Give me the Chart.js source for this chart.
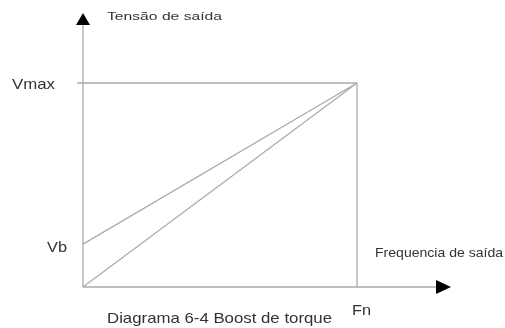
<!DOCTYPE html>
<html>
<head>
<meta charset="utf-8">
<script src="https://cdn.jsdelivr.net/npm/chart.js@4"></script>
<style>
  html, body { margin: 0; padding: 0; background: #fff; }
  #wrap { width: 505px; height: 328px; }
</style>
</head>
<body>
<div id="wrap"><canvas id="chart"></canvas></div>
<script>
// diagram values (arbitrary units)
const freqTicks = ["Fn"];
const voltTicks = ["Vb", "Vmax"];
const Fn = 50;
const Vmax = 100;
const Vb = 21;
const xMax = 67.15;
const yMax = 134.3;

const lineColor = "#ababab";
const textColor = "#333";

const linear = [{ x: 0, y: 0 }, { x: Fn, y: Vmax }];
const boost = [{ x: 0, y: Vb }, { x: Fn, y: Vmax }];
const vmaxGuide = [{ x: -1.1, y: Vmax }, { x: Fn, y: Vmax }];
const fnGuide = [{ x: Fn, y: 0 }, { x: Fn, y: Vmax }];

function ds(data) {
  return { data: data, showLine: true, borderColor: lineColor, borderWidth: 1.3, pointRadius: 0, clip: false };
}

// text drawn a bit wide, like the original scan
function wideText(ctx, text, x, y, size, width) {
  ctx.font = size + "px 'Liberation Sans', Arial, sans-serif";
  const w = ctx.measureText(text).width;
  ctx.save();
  ctx.translate(x, y);
  ctx.scale(width / w, 1);
  ctx.fillText(text, 0, 0);
  ctx.restore();
}

const diagram = {
  id: "diagram",
  afterDraw(chart) {
    const ctx = chart.ctx;
    const xs = chart.scales.x, ys = chart.scales.y;
    const x0 = xs.getPixelForValue(0), y0 = ys.getPixelForValue(0);
    const xEnd = xs.getPixelForValue(xMax), yEnd = ys.getPixelForValue(yMax);
    ctx.save();
    // axes
    ctx.strokeStyle = lineColor;
    ctx.lineWidth = 1.3;
    ctx.beginPath();
    ctx.moveTo(x0, y0); ctx.lineTo(x0, yEnd + 8);
    ctx.moveTo(x0, y0); ctx.lineTo(xEnd - 8, y0);
    ctx.stroke();
    // arrow heads
    ctx.fillStyle = "#000";
    ctx.beginPath();
    ctx.moveTo(x0, yEnd); ctx.lineTo(x0 - 7, yEnd + 12); ctx.lineTo(x0 + 7, yEnd + 12);
    ctx.closePath(); ctx.fill();
    ctx.beginPath();
    ctx.moveTo(xEnd, y0); ctx.lineTo(xEnd - 15, y0 - 7); ctx.lineTo(xEnd - 15, y0 + 7);
    ctx.closePath(); ctx.fill();
    // labels
    ctx.fillStyle = textColor;
    ctx.textBaseline = "alphabetic";
    ctx.textAlign = "left";
    wideText(ctx, voltTicks[1], x0 - 71, ys.getPixelForValue(Vmax) + 6, 15, 43);
    wideText(ctx, voltTicks[0], x0 - 36, ys.getPixelForValue(Vb) + 8, 15, 20);
    wideText(ctx, freqTicks[0], xs.getPixelForValue(Fn) - 5, y0 + 28, 15, 19);
    wideText(ctx, "Tensão de saída", x0 + 24, 20, 11.5, 115);
    wideText(ctx, "Frequencia de saída", xs.getPixelForValue(Fn) + 18, y0 - 30, 13, 128);
    wideText(ctx, "Diagrama 6-4 Boost de torque", 107, 323, 14.5, 225);
    ctx.restore();
  }
};

new Chart(document.getElementById("chart"), {
  type: "scatter",
  data: { datasets: [ds(linear), ds(boost), ds(vmaxGuide), ds(fnGuide)] },
  options: {
    responsive: true,
    maintainAspectRatio: false,
    animation: false,
    layout: { padding: { left: 83, right: 54, top: 13, bottom: 41 } },
    plugins: { legend: { display: false }, tooltip: { enabled: false } },
    scales: {
      x: { type: "linear", min: 0, max: xMax, display: false },
      y: { type: "linear", min: 0, max: yMax, display: false }
    }
  },
  plugins: [diagram]
});
</script>
</body>
</html>
